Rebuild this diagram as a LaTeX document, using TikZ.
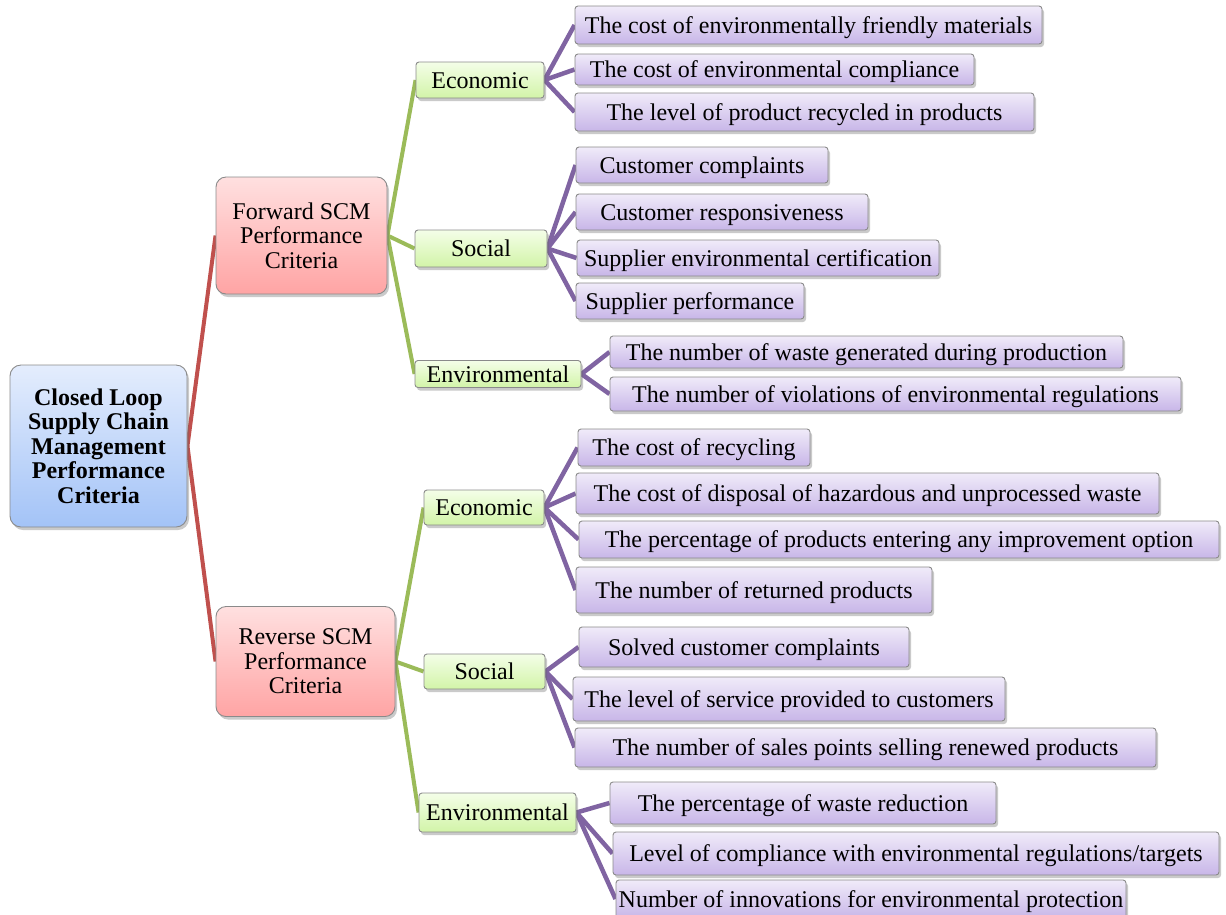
\documentclass[tikz,border=0pt]{standalone}
\usepackage{fontspec}
\setmainfont{Liberation Serif}
\usetikzlibrary{shadows,backgrounds}
\definecolor{cred}{HTML}{C0504D}
\definecolor{cgreen}{HTML}{9BBB59}
\definecolor{cpurple}{HTML}{8064A2}
\definecolor{rootT}{HTML}{E4EDFD}
\definecolor{rootB}{HTML}{A3C3F7}
\definecolor{midT}{HTML}{FFE0E0}
\definecolor{midB}{HTML}{FFA4A4}
\definecolor{catT}{HTML}{F4FEE8}
\definecolor{catB}{HTML}{D2F4A8}
\definecolor{leafT}{HTML}{F0EBF9}
\definecolor{leafB}{HTML}{C8B6E8}
\definecolor{cborder}{HTML}{8A8A8A}
\tikzset{
  boxbase/.style={draw=cborder, line width=0.9pt, inner sep=0pt, align=center,
    font=\fontsize{24}{24.5}\selectfont,
    drop shadow={shadow xshift=2pt, shadow yshift=-3pt, fill=black!60, opacity=0.35}},
  rootbox/.style={boxbase, rounded corners=11pt, top color=rootT, bottom color=rootB,
    font=\fontsize{24}{24.5}\selectfont\bfseries},
  midbox/.style={boxbase, rounded corners=10pt, top color=midT, bottom color=midB},
  onelinebox/.style={boxbase, rounded corners=3pt, text height=19pt, text depth=3pt},
  catbox/.style={onelinebox, top color=catT, bottom color=catB},
  leafbox/.style={onelinebox, top color=leafT, bottom color=leafB},
  redline/.style={draw=cred, line width=4pt},
  greenline/.style={draw=cgreen, line width=4pt},
  purpleline/.style={draw=cpurple, line width=4.5pt},
}
\begin{document}
\begin{tikzpicture}[x=1pt, y=-1pt]
\useasboundingbox (0,0) rectangle (1226,914);
% level 0
\node[rootbox, minimum width=177pt, minimum height=162pt] (root) at (98.5,446)
  {Closed Loop\\Supply Chain\\Management\\Performance\\Criteria};
% level 1
\node[midbox, minimum width=171pt, minimum height=117pt] (fwd) at (301.5,235.5)
  {Forward SCM\\Performance\\Criteria};
\node[midbox, minimum width=179pt, minimum height=110pt] (rev) at (305.5,661.5)
  {Reverse SCM\\Performance\\Criteria};
% level 2
\node[catbox, minimum width=128pt, minimum height=36pt] (fe) at (480,80) {Economic};
\node[catbox, minimum width=132pt, minimum height=37pt] (fs) at (481,248.5) {Social};
\node[catbox, minimum width=166pt, minimum height=27pt] (fen) at (498,374) {Environmental};
\node[catbox, minimum width=120pt, minimum height=35pt] (re) at (484,507.5) {Economic};
\node[catbox, minimum width=121pt, minimum height=35pt] (rs) at (484.5,671.5) {Social};
\node[catbox, minimum width=157pt, minimum height=39pt] (ren) at (497.5,812.5) {Environmental};
% leaves
\node[leafbox, minimum width=467pt, minimum height=38pt] (l1) at (808.5,25) {The cost of environmentally friendly materials};
\node[leafbox, minimum width=399pt, minimum height=31pt] (l2) at (774.5,69.5) {The cost of environmental compliance};
\node[leafbox, minimum width=459pt, minimum height=38pt] (l3) at (804.5,112) {The level of product recycled in products};
\node[leafbox, minimum width=252pt, minimum height=36pt] (l4) at (702,165) {Customer complaints};
\node[leafbox, minimum width=292pt, minimum height=36pt] (l5) at (722,212) {Customer responsiveness};
\node[leafbox, minimum width=362pt, minimum height=36pt] (l6) at (758,258) {Supplier environmental certification};
\node[leafbox, minimum width=228pt, minimum height=36pt] (l7) at (690,301) {Supplier performance};
\node[leafbox, minimum width=513pt, minimum height=32pt] (l8) at (866.5,352) {The number of waste generated during production};
\node[leafbox, minimum width=571pt, minimum height=34pt] (l9) at (895.5,394) {The number of violations of environmental regulations};
\node[leafbox, minimum width=232pt, minimum height=37pt] (l10) at (694,447.5) {The cost of recycling};
\node[leafbox, minimum width=583pt, minimum height=41pt] (l11) at (867.5,493.5) {The cost of disposal of hazardous and unprocessed waste};
\node[leafbox, minimum width=640pt, minimum height=37pt] (l12) at (899,539.5) {The percentage of products entering any improvement option};
\node[leafbox, minimum width=356pt, minimum height=46pt] (l13) at (754,590) {The number of returned products};
\node[leafbox, minimum width=330pt, minimum height=40pt] (l14) at (744,647) {Solved customer complaints};
\node[leafbox, minimum width=432pt, minimum height=44pt] (l15) at (789,699) {The level of service provided to customers};
\node[leafbox, minimum width=581pt, minimum height=39pt] (l16) at (865.5,747.5) {The number of sales points selling renewed products};
\node[leafbox, minimum width=386pt, minimum height=42pt] (l17) at (803,803) {The percentage of waste reduction};
\node[leafbox, minimum width=606pt, minimum height=43pt] (l18) at (916,853.5) {Level of compliance with environmental regulations/targets};
\node[leafbox, minimum width=510pt, minimum height=38pt] (l19) at (871,899) {Number of innovations for environmental protection};
% connectors
\begin{scope}[on background layer]
\draw[redline] (root.east) -- (fwd.west);
\draw[redline] (root.east) -- (rev.west);
\foreach \c in {fe,fs,fen} \draw[greenline] (fwd.east) -- (\c.west);
\foreach \c in {re,rs,ren} \draw[greenline] (rev.east) -- (\c.west);
\foreach \c in {l1,l2,l3} \draw[purpleline] (fe.east) -- (\c.west);
\foreach \c in {l4,l5,l6,l7} \draw[purpleline] (fs.east) -- (\c.west);
\foreach \c in {l8,l9} \draw[purpleline] (fen.east) -- (\c.west);
\foreach \c in {l10,l11,l12,l13} \draw[purpleline] (re.east) -- (\c.west);
\foreach \c in {l14,l15,l16} \draw[purpleline] (rs.east) -- (\c.west);
\foreach \c in {l17,l18,l19} \draw[purpleline] (ren.east) -- (\c.west);
\end{scope}
\end{tikzpicture}
\end{document}
